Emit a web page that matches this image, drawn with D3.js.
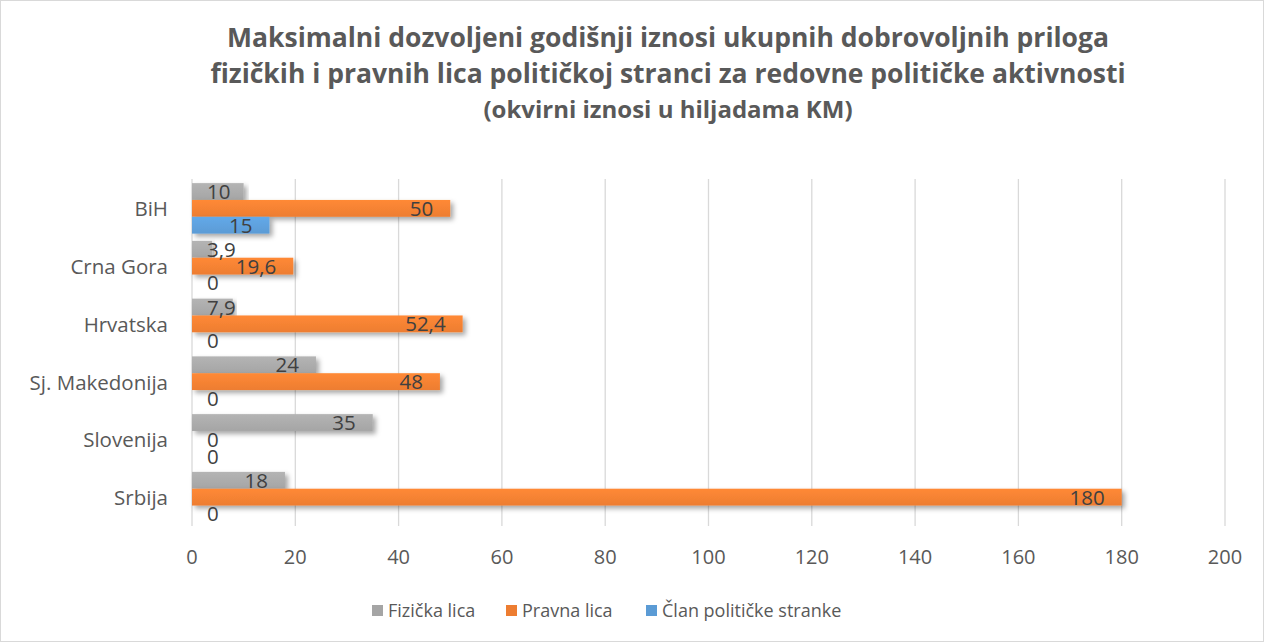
<!DOCTYPE html>
<html>
<head>
<meta charset="utf-8">
<script src="https://cdn.jsdelivr.net/npm/d3@7"></script>
<style>
  body { margin: 0; background: #fff; }
  text { font-family: "Open Sans", "Liberation Sans", sans-serif; fill: #595959; }
</style>
</head>
<body>
<div id="chart"></div>
<script>
// chart data
const countries = ["BiH", "Crna Gora", "Hrvatska", "Sj. Makedonija", "Slovenija", "Srbija"];
const fizicka = [10, 3.9, 7.9, 24, 35, 18];
const pravna = [50, 19.6, 52.4, 48, 0, 180];
const clan = [15, 0, 0, 0, 0, 0];
const seriesNames = ["Fizička lica", "Pravna lica", "Član političke stranke"];
const seriesColors = ["#a5a5a5", "#ed7d31", "#5b9bd5"];
const xTicks = [0, 20, 40, 60, 80, 100, 120, 140, 160, 180, 200];
const titleLines = [
  "Maksimalni dozvoljeni godišnji iznosi ukupnih dobrovoljnih priloga",
  "fizičkih i pravnih lica političkoj stranci za redovne političke aktivnosti",
  "(okvirni iznosi u hiljadama KM)"
];

const width = 1264, height = 642;
const svg = d3.select('#chart').append('svg')
  .attr('width', width)
  .attr('height', height);

// outer border
svg.append('rect')
  .attr('x', 0.5).attr('y', 0.5)
  .attr('width', width - 1).attr('height', height - 1)
  .attr('fill', '#fff').attr('stroke', '#d9d9d9');

const defs = svg.append('defs');
let shadow = defs.append('filter').attr('id', 'shadow')
  .attr('x', '-5%').attr('y', '-50%').attr('width', '115%').attr('height', '250%');
shadow.append('feDropShadow')
  .attr('dx', 3).attr('dy', 3).attr('stdDeviation', 2.5)
  .attr('flood-color', '#000').attr('flood-opacity', 0.35);

seriesColors.forEach((c, i) => {
  let g = defs.append('linearGradient').attr('id', 'grad' + i)
    .attr('x1', 0).attr('y1', 0).attr('x2', 0).attr('y2', 1);
  g.append('stop').attr('offset', '0%').attr('stop-color', d3.color(c).brighter(0.25));
  g.append('stop').attr('offset', '100%').attr('stop-color', c);
});

// title
const titleSizes = [26.5, 26.5, 24];
const titleY = [47, 83, 118];
titleLines.forEach((line, i) => {
  svg.append('text')
    .attr('x', 668).attr('y', titleY[i])
    .attr('text-anchor', 'middle')
    .style('font-weight', 'bold')
    .style('font-size', titleSizes[i] + 'px')
    .text(line);
});

const x = d3.scaleLinear().domain([0, 200]).range([192, 1225]);
const y = d3.scaleBand().domain(countries).range([179.5, 526]);
const sub = d3.scaleBand().domain([0, 1, 2]).range([0, y.bandwidth()]).paddingOuter(0.215).paddingInner(0);

let plot = svg.append('g');

// gridlines
plot.selectAll('line.grid')
  .data(xTicks)
  .enter()
  .append('line')
  .attr('class', 'grid')
  .attr('x1', d => x(d)).attr('x2', d => x(d))
  .attr('y1', 179).attr('y2', 526)
  .attr('stroke', '#d9d9d9')
  .attr('stroke-width', 1.3);

// tick labels
plot.selectAll('text.tick')
  .data(xTicks)
  .enter()
  .append('text')
  .attr('class', 'tick')
  .attr('x', d => x(d)).attr('y', 564)
  .attr('text-anchor', 'middle')
  .style('font-size', '20px')
  .text(d => d);

// category labels
plot.selectAll('text.cat')
  .data(countries)
  .enter()
  .append('text')
  .attr('class', 'cat')
  .attr('x', 168)
  .attr('y', d => y(d) + y.bandwidth() / 2 + 8)
  .attr('text-anchor', 'end')
  .style('font-size', '20.5px')
  .text(d => d);

const allSeries = [fizicka, pravna, clan];
const fmt = v => String(v).replace('.', ',');

allSeries.forEach((vals, si) => {
  let rows = countries.map((c, i) => ({ c: c, v: vals[i] }));
  plot.selectAll('rect.s' + si)
    .data(rows.filter(d => d.v > 0))
    .enter()
    .append('rect')
    .attr('class', 's' + si)
    .attr('x', x(0))
    .attr('y', d => y(d.c) + sub(si))
    .attr('width', d => x(d.v) - x(0))
    .attr('height', sub.bandwidth())
    .attr('fill', 'url(#grad' + si + ')')
    .attr('filter', 'url(#shadow)');
});

// data labels
allSeries.forEach((vals, si) => {
  let rows = countries.map((c, i) => ({ c: c, v: vals[i] }));
  plot.selectAll('text.l' + si)
    .data(rows)
    .enter()
    .append('text')
    .attr('class', 'l' + si)
    .attr('y', d => y(d.c) + sub(si) + sub.bandwidth() / 2 + 7.5)
    .style('font-size', '20.5px')
    .style('fill', '#404040')
    .text(d => fmt(d.v))
    .each(function (d) {
      let w = this.getComputedTextLength();
      let left = x(d.v) - 17 - w;
      if (left < 207) left = 207;
      d3.select(this).attr('x', left);
    });
});

// legend
const legendX = [372, 506, 646];
seriesNames.forEach((name, i) => {
  svg.append('rect')
    .attr('x', legendX[i]).attr('y', 605)
    .attr('width', 11).attr('height', 11)
    .attr('fill', seriesColors[i]);
  svg.append('text')
    .attr('x', legendX[i] + 16).attr('y', 617)
    .style('font-size', '18px')
    .text(name);
});
</script>
</body>
</html>
